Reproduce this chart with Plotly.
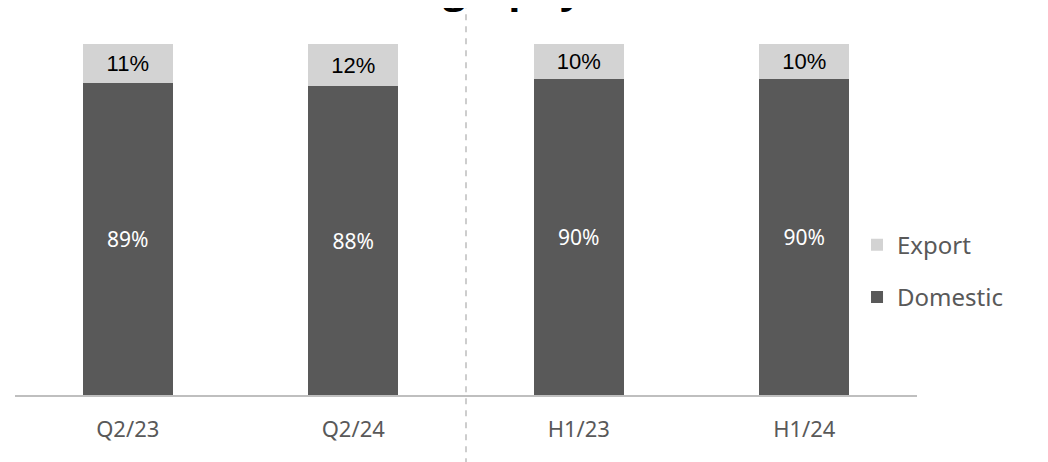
import plotly.graph_objects as go

categories = ["Q2/23", "Q2/24", "H1/23", "H1/24"]
domestic = [89, 88, 90, 90]
export = [11, 12, 10, 10]
title_text = "Geography"

fig = go.Figure()
fig.add_trace(go.Bar(
    x=categories, y=domestic, name="Domestic", legendgroup="b", legendrank=2,
    marker=dict(color="#595959", line=dict(width=0)),
    text=[f"{v}%" for v in domestic], textposition="inside",
    insidetextanchor="middle", constraintext="none",
    textfont=dict(family="Noto Sans", size=21, color="white"),
    width=0.4,
))
fig.add_trace(go.Bar(
    x=categories, y=export, name="Export", legendgroup="a", legendrank=1,
    marker=dict(color="#d3d3d3", line=dict(width=0)),
    text=[f"{v}%" for v in export], textposition="inside",
    insidetextanchor="middle", constraintext="none",
    textfont=dict(family="Liberation Sans", size=22, color="black"),
    width=0.4,
))

fig.add_shape(type="line", xref="paper", yref="paper",
              x0=0.5, x1=0.5, y0=-0.3, y1=1.115,
              line=dict(color="#bdbdbd", width=1.5, dash="6px,6px"))

fig.add_annotation(text=title_text, xref="paper", yref="paper",
                   x=0.509, y=1.076, xanchor="center", yanchor="bottom",
                   showarrow=False,
                   font=dict(family="Open Sans", size=40, color="black", weight="bold"))

fig.update_layout(
    width=1048, height=462,
    barmode="stack", bargap=0.6,
    plot_bgcolor="white", paper_bgcolor="white",
    margin=dict(l=7, r=139, t=36, b=75, autoexpand=False),
    showlegend=True,
    legend=dict(x=0.9335, xanchor="left", y=0.353, yanchor="middle",
                traceorder="grouped", tracegroupgap=18,
                bgcolor="rgba(0,0,0,0)",
                font=dict(family="Noto Sans", size=24, color="#595959"),
                itemwidth=30),
    xaxis=dict(showline=True, linecolor="#bfbfbf", linewidth=1.5,
               ticks="outside", ticklen=14, tickcolor="rgba(0,0,0,0)",
               tickfont=dict(family="Noto Sans", size=22, color="#595959"),
               showgrid=False, zeroline=False, automargin=False),
    yaxis=dict(range=[0, 100], visible=False, showgrid=False, zeroline=False,
               automargin=False),
)

fig.write_html("out.html")
